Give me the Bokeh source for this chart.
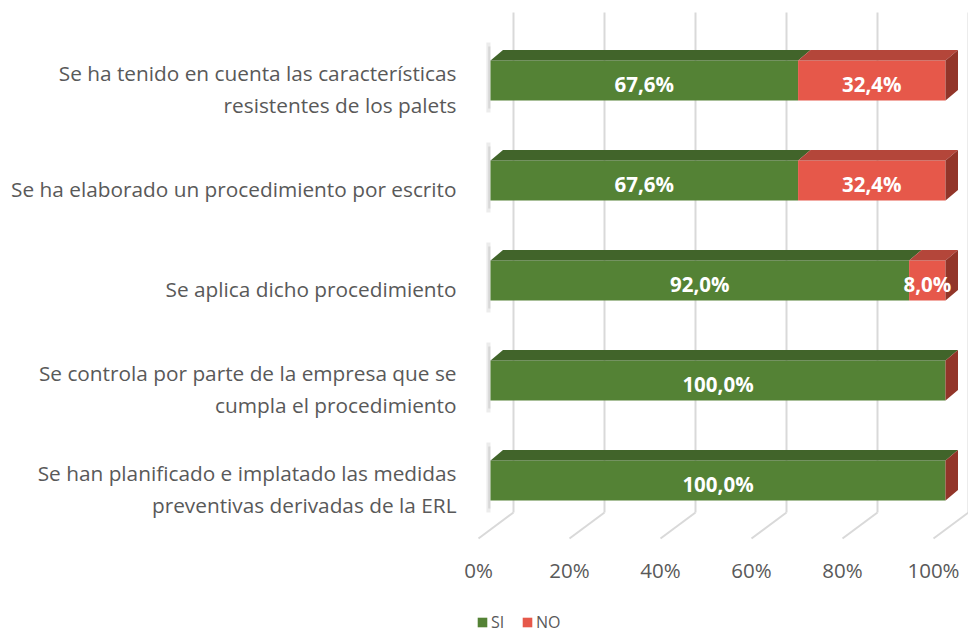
from bokeh.plotting import figure
from bokeh.models import Range1d, Legend, LegendItem
from bokeh.core.properties import value
from bokeh.embed import file_html
from bokeh.resources import INLINE

# ---- data ----
categories = [
    "Se ha tenido en cuenta las características\nresistentes de los palets",
    "Se ha elaborado un procedimiento por escrito",
    "Se aplica dicho procedimiento",
    "Se controla por parte de la empresa que se\ncumpla el procedimiento",
    "Se han planificado e implatado las medidas\npreventivas derivadas de la ERL",
]
si_values = [67.6, 67.6, 92.0, 100.0, 100.0]
no_values = [32.4, 32.4, 8.0, 0.0, 0.0]
tick_values = [0, 20, 40, 60, 80, 100]
tick_labels = ["0%", "20%", "40%", "60%", "80%", "100%"]
series_names = ["SI", "NO"]

# ---- styles ----
GREEN = "#548235"
GREEN_TOP = "#41642A"
RED = "#E6584A"
RED_TOP = "#B4463A"
RED_SIDE = "#923529"
GRID = "#D9D9D9"
TXT = "#595959"
FONT = "Open Sans"

W, H = 968, 636
px_per_x = 4.55
x0_px = 490
xs_start = -x0_px / px_per_x
x_range = Range1d(xs_start, xs_start + W / px_per_x)
y_range = Range1d(5.56, -0.80)  # categories index 0 at top, 100 px per category

p = figure(width=W, height=H, x_range=x_range, y_range=y_range,
           x_axis_type=None, y_axis_type=None, output_backend="svg",
           toolbar_location=None, min_border=0, outline_line_color=None,
           background_fill_color="white", border_fill_color="white")

n = len(categories)
idx = list(range(n))
bar_h = 0.4
dx = 12.5 / px_per_x   # depth offset in x
dy = 0.105             # depth offset in y (upward)

# ---- 3D walls / gridlines ----
back_dx = 23 / px_per_x
floor_dx = -12 / px_per_x
grid_top, back_bottom, floor_front = -0.68, 4.32, 4.58
p.segment(x0=[t + back_dx for t in tick_values], y0=[grid_top] * len(tick_values),
          x1=[t + back_dx for t in tick_values], y1=[back_bottom] * len(tick_values),
          line_color=GRID, line_width=2)
p.segment(x0=[t + back_dx for t in tick_values], y0=[back_bottom] * len(tick_values),
          x1=[t + floor_dx for t in tick_values], y1=[floor_front] * len(tick_values),
          line_color=GRID, line_width=2)

# soft left shadows
p.quad(left=[-0.9] * n, right=[0] * n, top=[i - 0.38 for i in idx],
       bottom=[i + 0.32 for i in idx], fill_color="#BFBFBF", fill_alpha=0.3,
       line_color=None)
p.quad(left=[-0.5] * n, right=[0] * n, top=[i - 0.34 for i in idx],
       bottom=[i + 0.28 for i in idx], fill_color="#A6A6A6", fill_alpha=0.3,
       line_color=None)

# ---- bars ----
si_left = [0.0] * n
si_right = si_values
no_left = si_values
no_right = [s + v for s, v in zip(si_values, no_values)]

green = p.hbar(y=idx, left=si_left, right=si_right, height=bar_h,
               fill_color=GREEN, line_color=None)
red = p.hbar(y=idx, left=no_left, right=no_right, height=bar_h,
             fill_color=RED, line_color=None)


def top_face(a, b, i):
    yt = i - bar_h / 2
    return [a, b, b + dx, a + dx], [yt, yt, yt - dy, yt - dy]


gx, gy, rx, ry, sx, sy = [], [], [], [], [], []
for i in idx:
    xx, yy = top_face(si_left[i], si_right[i], i)
    gx.append(xx); gy.append(yy)
    if no_values[i] > 0:
        xx, yy = top_face(no_left[i], no_right[i], i)
        rx.append(xx); ry.append(yy)
    e = no_right[i]
    yt, yb = i - bar_h / 2, i + bar_h / 2
    sx.append([e, e + dx, e + dx, e]); sy.append([yt, yt - dy, yb - dy, yb])

p.patches(xs=gx, ys=gy, fill_color=GREEN_TOP, line_color=None)
p.patches(xs=rx, ys=ry, fill_color=RED_TOP, line_color=None)
p.patches(xs=sx, ys=sy, fill_color=RED_SIDE, line_color=None)

# ---- value labels ----
def fmt(v):
    return f"{v:.1f}".replace(".", ",") + "%"

lab_x, lab_y, lab_t = [], [], []
for i in idx:
    lab_x.append(si_values[i] / 2); lab_y.append(i + 0.03); lab_t.append(fmt(si_values[i]))
    if no_values[i] > 0:
        lab_x.append(no_left[i] + no_values[i] / 2); lab_y.append(i + 0.03)
        lab_t.append(fmt(no_values[i]))
p.text(x=lab_x, y=lab_y, text=lab_t, text_align="center", text_baseline="middle",
       text_color="white", text_font=value(FONT), text_font_style="bold",
       text_font_size="20.5px")

# ---- category labels ----
p.text(x=[-7.47] * n, y=[i + 0.085 for i in idx], text=categories,
       text_align="right", text_baseline="middle", text_color=TXT,
       text_font=value(FONT), text_font_size="20.8px", text_line_height=1.12)

# ---- x tick labels ----
p.text(x=[t + floor_dx for t in tick_values], y=[4.89] * len(tick_values),
       text=tick_labels, text_align="center", text_baseline="middle",
       text_color=TXT, text_font=value(FONT), text_font_size="20.5px")

# ---- legend ----
legend = Legend(items=[LegendItem(label=series_names[0], renderers=[green]),
                       LegendItem(label=series_names[1], renderers=[red])],
                orientation="horizontal", location=(476, 3), padding=0, margin=0,
                spacing=10, label_standoff=3, glyph_width=12, glyph_height=12,
                label_text_font=FONT, label_text_font_size="16px",
                label_text_color=TXT, background_fill_alpha=0,
                border_line_color=None)
p.add_layout(legend, "center")

open("out.html", "w").write(file_html(p, INLINE))
